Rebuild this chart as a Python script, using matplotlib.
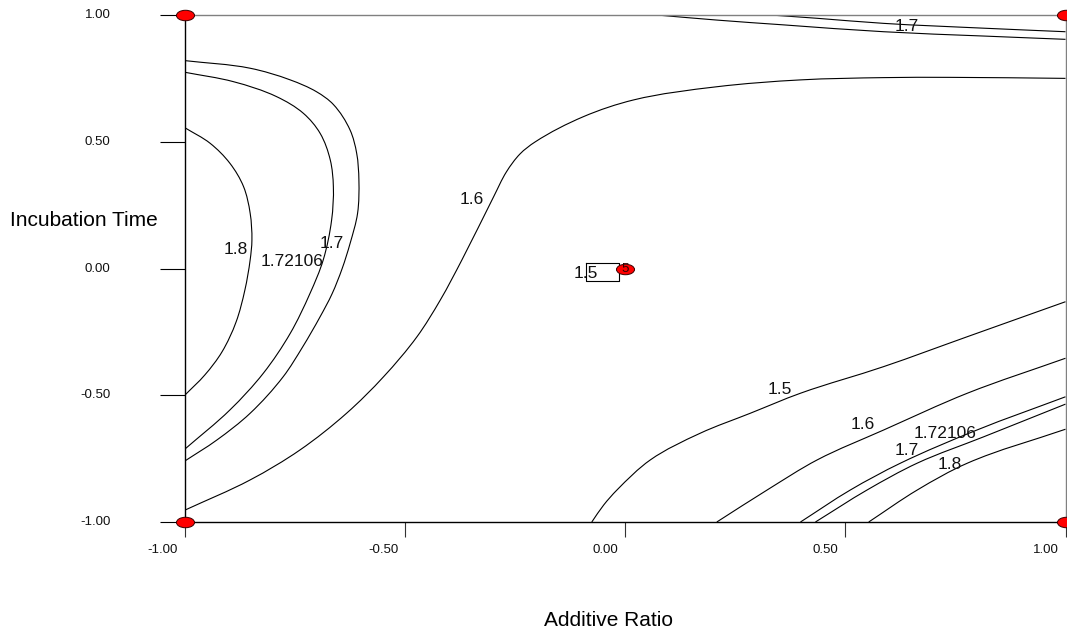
import matplotlib
matplotlib.use("Agg")
import numpy as np
import matplotlib.pyplot as plt
from matplotlib.path import Path
from matplotlib.patches import PathPatch
from matplotlib.transforms import Affine2D
from matplotlib.markers import MarkerStyle

plt.rcParams['font.family'] = ['Liberation Sans', 'DejaVu Sans']

# ---------------- data (coded factor units) ----------------
x_label = "Additive Ratio"
y_label = "Incubation Time"
x_ticks = [-1.0, -0.5, 0.0, 0.5, 1.0]
x_tick_labels = ["-1.00", "-0.50", "0.00", "0.50", "1.00"]
y_ticks = [-1.0, -0.5, 0.0, 0.5, 1.0]
y_tick_labels = ["-1.00", "-0.50", "0.00", "0.50", "1.00"]

# design points (factorial corners + centre point with 5 replicates)
design_x = [-1.0, -1.0, 1.0, 1.0, 0.0]
design_y = [-1.0, 1.0, 1.0, -1.0, 0.0]
centre_reps = "5"

# contour lines (x, y in coded units)
left_17_x = [-1.000, -0.852, -0.761, -0.701, -0.663, -0.625, -0.610, -0.605, -0.608, -0.625,
             -0.643, -0.666, -0.693, -0.733, -0.777, -0.852, -0.928, -1.000]
left_17_y = [0.820, 0.790, 0.744, 0.697, 0.647, 0.546, 0.454, 0.349, 0.218, 0.099,
             0.000, -0.100, -0.190, -0.310, -0.427, -0.571, -0.677, -0.759]

left_172_x = [-1.000, -0.890, -0.792, -0.731, -0.693, -0.670, -0.663, -0.667, -0.686,
              -0.716, -0.761, -0.822, -0.898, -1.000]
left_172_y = [0.774, 0.737, 0.678, 0.612, 0.533, 0.428, 0.323, 0.191, 0.034,
              -0.098, -0.256, -0.413, -0.558, -0.712]

left_18_x = [-1.000, -0.943, -0.898, -0.867, -0.852, -0.848, -0.852, -0.864, -0.884,
             -0.916, -0.955, -1.000]
left_18_y = [0.555, 0.494, 0.415, 0.323, 0.218, 0.112, 0.034, -0.085, -0.211,
             -0.329, -0.420, -0.499]

mid_16_x = [-1.000, -0.852, -0.739, -0.633, -0.549, -0.473, -0.420, -0.371, -0.299,
            -0.270, -0.239, -0.205, -0.095, 0.019, 0.208, 0.398, 0.587, 0.739, 1.000]
mid_16_y = [-0.953, -0.834, -0.716, -0.571, -0.427, -0.269, -0.124, 0.034, 0.283,
            0.381, 0.452, 0.499, 0.599, 0.665, 0.717, 0.744, 0.753, 0.754, 0.750]

top_17_x = [0.072, 0.208, 0.360, 0.587, 0.814, 1.000]
top_17_y = [1.000, 0.980, 0.961, 0.934, 0.917, 0.904]

top_172_x = [0.330, 0.436, 0.587, 0.814, 1.000]
top_172_y = [1.000, 0.987, 0.967, 0.948, 0.934]

br_15_x = [-0.076, -0.049, -0.019, 0.057, 0.170, 0.284, 0.398, 0.587, 0.777, 1.000]
br_15_y = [-1.000, -0.933, -0.874, -0.755, -0.650, -0.571, -0.492, -0.387, -0.269, -0.131]

br_16_x = [0.208, 0.322, 0.436, 0.587, 0.777, 1.000]
br_16_y = [-1.000, -0.874, -0.755, -0.637, -0.492, -0.354]

br_17_x = [0.398, 0.511, 0.625, 0.799, 1.000]
br_17_y = [-1.000, -0.874, -0.768, -0.637, -0.506]

br_172_x = [0.432, 0.549, 0.663, 0.814, 1.000]
br_172_y = [-1.000, -0.874, -0.768, -0.664, -0.535]

br_18_x = [0.553, 0.663, 0.777, 1.000]
br_18_y = [-1.000, -0.874, -0.768, -0.634]

centre_15_x = [-0.089, -0.014, -0.014, -0.089, -0.089]
centre_15_y = [0.022, 0.022, -0.049, -0.049, 0.022]

contour_label_text = ["1.6", "1.8", "1.72106", "1.7", "1.7", "1.5", "1.6",
                      "1.72106", "1.7", "1.8", "1.5"]
contour_label_x = [-0.348, -0.885, -0.757, -0.667, 0.640, 0.352, 0.540,
                   0.727, 0.640, 0.736, -0.089]
contour_label_y = [0.273, 0.073, 0.027, 0.099, 0.954, -0.479, -0.617,
                   -0.649, -0.716, -0.775, -0.018]

smooth_lines = [(left_17_x, left_17_y), (left_172_x, left_172_y), (left_18_x, left_18_y),
                (mid_16_x, mid_16_y), (top_17_x, top_17_y), (top_172_x, top_172_y),
                (br_15_x, br_15_y), (br_16_x, br_16_y), (br_17_x, br_17_y),
                (br_172_x, br_172_y), (br_18_x, br_18_y)]

W, H = 1067, 631
SX, SY = 440.0, 253.5   # pixels per coded unit (used only to keep curve tangents isotropic)


def smooth_path(xs, ys):
    """Smooth curve through the read points, drawn as cubic Bezier segments."""
    p = np.column_stack([np.asarray(xs) * SX, np.asarray(ys) * SY]).astype(float)
    n = len(p)
    tang = np.zeros_like(p)
    for i in range(n):
        if i == 0:
            d = p[1] - p[0]
        elif i == n - 1:
            d = p[-1] - p[-2]
        else:
            a = p[i] - p[i - 1]
            b = p[i + 1] - p[i]
            d = a / np.linalg.norm(a) + b / np.linalg.norm(b)
        tang[i] = d / np.linalg.norm(d)
    verts = [p[0]]
    codes = [Path.MOVETO]
    for i in range(n - 1):
        L = np.linalg.norm(p[i + 1] - p[i])
        c1 = p[i] + tang[i] * L / 3.0
        c2 = p[i + 1] - tang[i + 1] * L / 3.0
        verts += [c1, c2, p[i + 1]]
        codes += [Path.CURVE4] * 3
    verts = np.array(verts) / np.array([SX, SY])
    return Path(verts, codes)


# ---------------- figure ----------------
fig = plt.figure(figsize=(W / 100, H / 100), dpi=100)
ax = fig.add_axes([185 / W, (H - 522) / H, 881 / W, 507 / H])
ax.set_xlim(-1, 1.0011)
ax.set_ylim(-1, 1)

for xs, ys in smooth_lines:
    ax.add_patch(PathPatch(smooth_path(xs, ys), fill=False, lw=0.8, ec='black', zorder=2))
ax.plot(centre_15_x, centre_15_y, color='black', lw=0.8, zorder=2)

for t, lx, ly in zip(contour_label_text, contour_label_x, contour_label_y):
    ax.text(lx, ly, t, fontsize=12.5, ha='center', va='center', color='#111111', zorder=3)

# spines
for s in ['top', 'right']:
    ax.spines[s].set_color('#808080')
for s in ['left', 'bottom']:
    ax.spines[s].set_color('black')
for s in ax.spines.values():
    s.set_linewidth(1.0)

ax.set_xticks(x_ticks)
ax.set_yticks(y_ticks)
ax.tick_params(axis='x', direction='out', length=15 * 0.72, width=0.8, color='#333333',
               labelbottom=False)
ax.tick_params(axis='y', direction='out', length=25 * 0.72, width=0.8, color='black',
               labelleft=False)

for v, t in zip(x_ticks, x_tick_labels):
    ax.annotate(t, xy=(v, -1), xycoords='data', xytext=(-5.0, -20.0), textcoords='offset points',
                ha='right', va='center', fontsize=9.5, color='#111111', annotation_clip=False)
for v, t in zip(y_ticks, y_tick_labels):
    ax.annotate(t, xy=(-1, v), xycoords='data', xytext=(-53.5, 0), textcoords='offset points',
                ha='right', va='center', fontsize=9.5, color='#111111', annotation_clip=False)

# design points
ell = Path.unit_circle().transformed(Affine2D().scale(1.0, 0.58))
ax.plot(design_x, design_y, linestyle='none', marker=MarkerStyle(ell), markersize=13,
        markerfacecolor='red', markeredgecolor='#3a0000', markeredgewidth=0.7,
        clip_on=False, zorder=5)
ax.text(0.0, 0.0, centre_reps, fontsize=9.5, ha='center', va='center', color='#300000', zorder=6)

fig.text(84 / W, (H - 220.5) / H, y_label, fontsize=15, ha='center', va='center')
fig.text(609 / W, (H - 620) / H, x_label, fontsize=15, ha='center', va='center')

fig.savefig("out.png", dpi=100, facecolor='white')
